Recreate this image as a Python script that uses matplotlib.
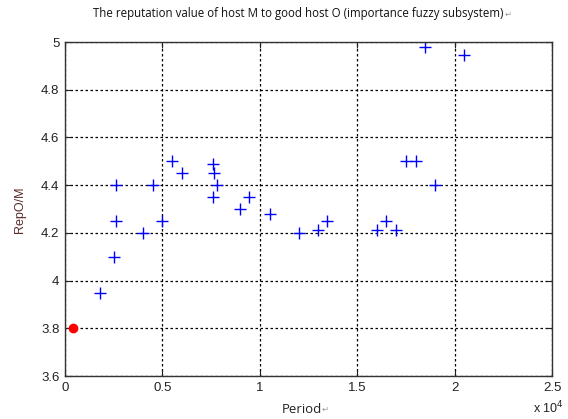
import matplotlib.pyplot as plt

# period (in units of 1e4) and reputation values
period = [0.18, 0.25, 0.26, 0.26, 0.40, 0.45, 0.50, 0.55, 0.60, 0.76,
          0.76, 0.765, 0.78, 0.90, 0.945, 1.05, 1.20, 1.30, 1.345, 1.60,
          1.65, 1.70, 1.75, 1.80, 1.85, 1.90, 2.05]
rep = [3.95, 4.10, 4.40, 4.25, 4.20, 4.40, 4.25, 4.50, 4.45, 4.35,
       4.49, 4.45, 4.40, 4.30, 4.35, 4.28, 4.20, 4.21, 4.25, 4.21,
       4.25, 4.21, 4.50, 4.50, 4.98, 4.40, 4.945]
start_period = [0.04]
start_rep = [3.80]

xticks = [0, 0.5, 1, 1.5, 2, 2.5]
xtick_labels = ['0', '0.5', '1', '1.5', '2', '2.5']
yticks = [3.6, 3.8, 4, 4.2, 4.4, 4.6, 4.8, 5]
ytick_labels = ['3.6', '3.8', '4', '4.2', '4.4', '4.6', '4.8', '5']

fig = plt.figure(figsize=(5.68, 4.19), dpi=100)
ax = fig.add_axes([65 / 568, 1 - 376 / 419, 487 / 568, 334 / 419])

ax.plot(period, rep, '+', color='blue', markersize=8, markeredgewidth=1.0)
ax.plot(start_period, start_rep, 'o', color='red', markersize=6)

ax.set_xlim(0, 2.5)
ax.set_ylim(3.6, 5)
ax.set_xticks(xticks)
ax.set_xticklabels(xtick_labels)
ax.set_yticks(yticks)
ax.set_yticklabels(ytick_labels)
ax.tick_params(direction='in', length=4, labelsize=9.5, colors='#222222',
               top=True, right=True, pad=4)
for lbl in ax.get_xticklabels() + ax.get_yticklabels():
    lbl.set_family('Liberation Sans')

ax.grid(True, color='black', linestyle=(0, (2, 2)), linewidth=0.9)
for pos in ['right', 'top', 'bottom', 'left']:
    ax.spines[pos].set_color('#333333')
    ax.spines[pos].set_linewidth(1.0)

fig.text(0.525, 1 - 14 / 419, 'The reputation value of host M to good host O (importance fuzzy subsystem)',
         ha='center', va='center', fontsize=8.3, family='Open Sans', color='#111111')
fig.text(505 / 568, 1 - 14 / 419, '\u21b5', ha='left', va='center', fontsize=6, color='#999999')

fig.text(302 / 568, 1 - 409 / 419, 'Period', ha='center', va='center',
         fontsize=9.5, family='Open Sans', color='#222222')
fig.text(322 / 568, 1 - 409 / 419, '\u21b5', ha='left', va='center', fontsize=6, color='#999999')

fig.text(20 / 568, 1 - 210 / 419, 'RepO/M', ha='center', va='center', rotation=90,
         fontsize=9, family='Liberation Sans', color='#5a2a2a')

fig.text(533 / 568, 1 - 408 / 419, r'x 10$^4$', ha='left', va='center',
         fontsize=9, family='Liberation Sans', color='#222222')

plt.savefig('out.png', dpi=100)
